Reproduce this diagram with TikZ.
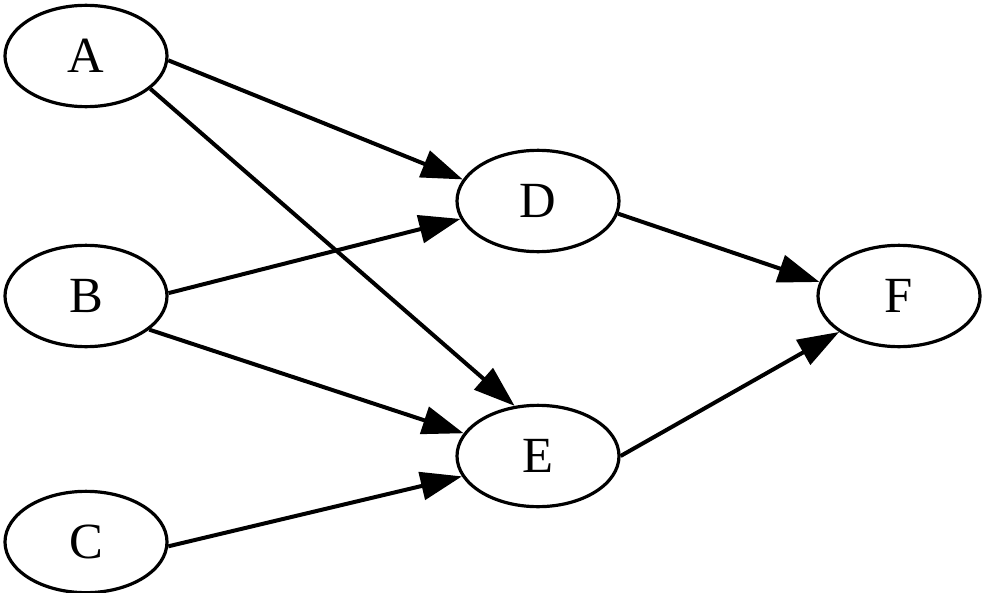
\documentclass[tikz,border=0pt]{standalone}
\usepackage{fontspec}
\setmainfont{Liberation Serif}
\usetikzlibrary{shapes.geometric,arrows.meta}
\tikzset{
  vnode/.style={ellipse, draw=black, line width=2.4pt, minimum width=121.5pt, minimum height=76pt, inner sep=0pt, font=\fontsize{38}{40}\selectfont},
  edge/.style={draw=black, line width=3pt, -{Triangle[length=31pt,width=21pt]}}
}
\begin{document}
\begin{tikzpicture}[x=0.75pt,y=-0.75pt]
\useasboundingbox (0,0) rectangle (984,592);
\node[vnode] (A) at (86,56) {A};
\node[vnode] (B) at (86,296) {B};
\node[vnode] (C) at (86,542) {C};
\node[vnode] (D) at (538,201) {D};
\node[vnode] (E) at (538,456) {E};
\node[vnode] (F) at (899,296) {F};
\draw[edge] (A.-3) -- (D.164);
\draw[edge] (A.-27) -- (E.115);
\draw[edge] (B.2) -- (D.-167);
\draw[edge] (B.-28) -- (E.163);
\draw[edge] (C.-3) -- (E.-165);
\draw[edge] (D.-9) -- (F.170);
\draw[edge] (E.0) -- (F.-149);
\end{tikzpicture}
\end{document}
